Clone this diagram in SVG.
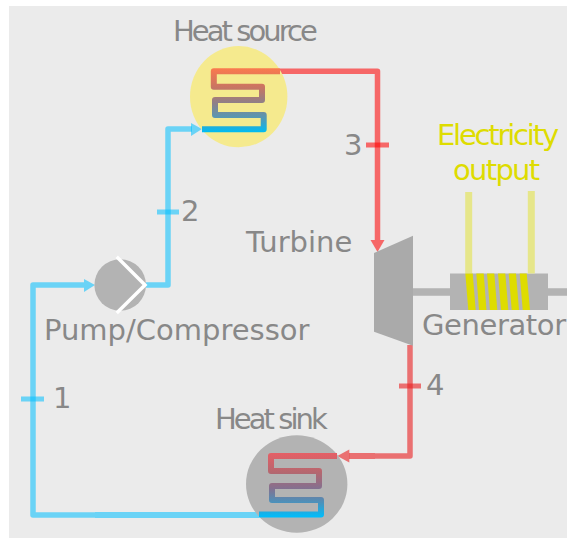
<svg xmlns="http://www.w3.org/2000/svg" width="567" height="538" viewBox="0 0 567 538">
<defs>
<linearGradient id="g1" gradientUnits="userSpaceOnUse" x1="0" y1="68" x2="0" y2="132"><stop offset="0" stop-color="#fb7a4e"/><stop offset="0.3" stop-color="#c97562"/><stop offset="0.55" stop-color="#8e8088"/><stop offset="0.78" stop-color="#5798b4"/><stop offset="1" stop-color="#00bcf2"/></linearGradient>
<linearGradient id="g2" gradientUnits="userSpaceOnUse" x1="0" y1="453" x2="0" y2="517"><stop offset="0" stop-color="#e55f66"/><stop offset="0.3" stop-color="#b5676f"/><stop offset="0.55" stop-color="#85708f"/><stop offset="0.78" stop-color="#4a92bc"/><stop offset="1" stop-color="#00bdfb"/></linearGradient>
</defs>
<style>
text{font-family:"DejaVu Sans",sans-serif;fill:#888;font-size:29px}
.y{fill:#dedc00}
.tight{letter-spacing:-2.95px}
.l{fill:none;stroke-width:5.5;stroke-linejoin:round}
.b{stroke:#00bfff;stroke-opacity:.55}
.r{stroke:#ff0000;stroke-opacity:.56}
.d{stroke:#ea1e20;stroke-opacity:.6}
.tick{stroke-width:5;fill:none}
.t{fill:none;stroke-width:6;stroke-linejoin:round}
</style>
<rect x="9" y="6" width="558" height="532" fill="#ebebeb"/>
<g id="connectors">
<path class="l b" d="M95,515H33V285H84"/>
<path d="M84,279L95,285L84,292Z" fill="#00bfff" fill-opacity=".55"/>
<path class="l b" d="M146,285H168V129H192"/>
<path d="M191,123L202,129L191,136Z" fill="#00bfff" fill-opacity=".55"/>
<path class="l r" d="M280,71.3H377.5V240"/>
<path d="M370.5,240L384.5,240L377.5,252Z" fill="#ff0000" fill-opacity=".56"/>
<path class="l d" d="M410,345V456H375"/>
<path d="M375,456H349" fill="none" stroke="#ea1e20" stroke-opacity=".6" stroke-width="6"/>
<path d="M349.3,449.5L337.3,456L349.3,462.5Z" fill="#ea1e20" fill-opacity=".6"/>
<path d="M95,515H259" fill="none" stroke="#00bfff" stroke-opacity=".55" stroke-width="6"/>
<path class="tick b" d="M21,399H44"/>
<path class="tick b" d="M157,212H179"/>
<path class="tick r" d="M366,145H389"/>
<path class="tick d" d="M399,386H421"/>
</g>
<g id="heat-source">
<ellipse cx="238.7" cy="96.7" rx="48.7" ry="50.6" fill="#f5ea8e"/>
<path class="t" d="M280,71.3H213.8V86.7H262V100H215V115H263.7V129.3H202" style="stroke:url(#g1)"/>
<text class="tight" x="173" y="41">Heat source</text>
</g>
<g id="heat-sink">
<ellipse cx="296.7" cy="484" rx="50.7" ry="48.7" fill="#b3b3b3"/>
<path class="t" d="M337,456H271V471H319V486H272V500H321V514.5H259" style="stroke:url(#g2)"/>
<text class="tight" x="215" y="429">Heat sink</text>
</g>
<g id="pump">
<circle cx="120.2" cy="285" r="25.8" fill="#b3b3b3"/>
<path d="M116.7,256.7L145,285L116.7,313" fill="none" stroke="#fff" stroke-width="3.5"/>
<text x="44" y="340">Pump/Compressor</text>
</g>
<g id="turbine">
<path d="M374,253L413,235.7V345.7L374,331.7Z" fill="#aaa"/>
<text x="246" y="252">Turbine</text>
</g>
<g id="generator">
<path d="M413,292H450M548,292H567" stroke="#b3b3b3" stroke-width="7.5"/>
<rect x="450" y="273.5" width="98" height="36.5" fill="#b3b3b3"/>
<path d="M468.7,192V273.5M531.3,191V273.5" stroke="#e6e68a" stroke-width="7"/>
<g fill="#dedc00">
<path d="M465.3,273.5H472.7L475.7,310H468.3Z"/><path d="M476.3,273.5H483.7L486.5,310H479Z"/><path d="M487,273.5H494.3L497.3,310H490Z"/><path d="M498,273.5H505.3L508.3,310H501Z"/><path d="M508.7,273.5H516L519,310H511.7Z"/><path d="M519.7,273.5H526.7L530,310H522.7Z"/>
</g>
<text x="422" y="335" style="letter-spacing:-.4px">Generator</text>
</g>
<g id="labels">
<text class="y" x="437" y="145" style="letter-spacing:-2.2px">Electricity</text>
<text class="y" x="453" y="180" style="letter-spacing:-1.7px">output</text>
<text x="53" y="408">1</text>
<text x="181" y="221">2</text>
<text x="344" y="155">3</text>
<text x="426" y="395">4</text>
</g>
</svg>
